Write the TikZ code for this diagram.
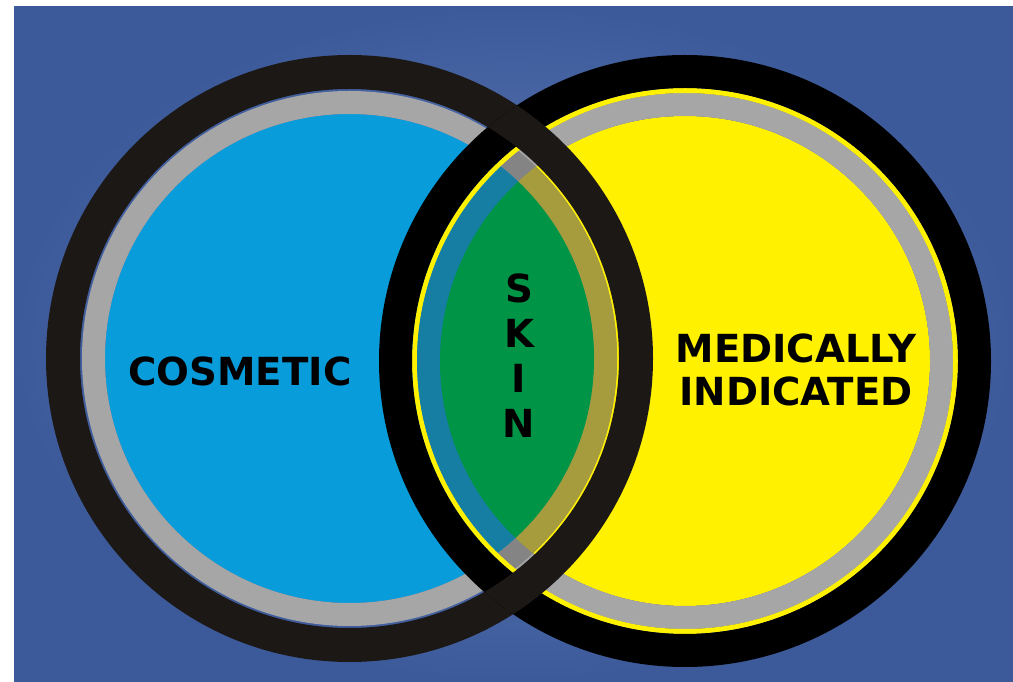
\documentclass[tikz,border=0pt]{standalone}
\usepackage{fontspec}
\setmainfont{DejaVu Sans}

\definecolor{bglight}{RGB}{100,124,184}
\definecolor{bgdark}{RGB}{60,90,154}
\definecolor{inkblack}{RGB}{28,24,22}
\definecolor{rimgray}{RGB}{166,166,166}
\definecolor{cosmblue}{RGB}{8,156,218}
\definecolor{medyellow}{RGB}{255,241,0}
\definecolor{lensgreen}{RGB}{0,148,70}
\definecolor{rimteal}{RGB}{22,126,162}
\definecolor{rimolive}{RGB}{166,156,62}
\definecolor{rimdark}{RGB}{132,132,132}

\begin{document}
\begin{tikzpicture}[
    word/.style={font=\bfseries\fontsize{11}{12.4}\selectfont, text=black, inner sep=0pt, align=center},
    rim/.style={line width=0.23cm}]
  \useasboundingbox (0,0) rectangle (10.13,6.81);
  \fill[white] (0,0) rectangle (10.13,6.81);

  % blue backdrop
  \shade[inner color=bglight, outer color=bgdark] (0.14,0) rectangle (10.13,6.74);

  \coordinate (lc) at (3.495,3.225);
  \coordinate (rc) at (6.85,3.20);

  % left circle
  \fill[cosmblue] (lc) circle (2.445);
  \draw[rimgray, rim] (lc) circle (2.56);
  \draw[inkblack, line width=0.34cm] (lc) circle (2.865);

  % right circle
  \fill[medyellow] (rc) circle (2.45);
  \draw[rimgray, rim] (rc) circle (2.565);
  \draw[medyellow, line width=0.05cm] (rc) circle (2.705);
  \draw[black, line width=0.33cm] (rc) circle (2.895);

  % where the two overlap
  \begin{scope}
    \clip (rc) circle (2.68);
    \draw[rimdark, rim] (lc) circle (2.56);
    \fill[rimteal] (lc) circle (2.445);
    \clip (rc) circle (2.45);
    \draw[rimolive, rim] (lc) circle (2.56);
    \fill[lensgreen] (lc) circle (2.445);
  \end{scope}
  \begin{scope}
    \clip (rc) circle (3.06);
    \draw[inkblack, line width=0.34cm] (lc) circle (2.865);
  \end{scope}

  % labels
  \node[word] (cosmetic) at (2.40,3.10) {COSMETIC};
  \node[word] (medical) at (7.96,3.11) {MEDICALLY\\INDICATED};
  \node[word, font=\bfseries\fontsize{11}{12.8}\selectfont] (skin) at (5.19,3.25) {S\\K\\I\\N};
\end{tikzpicture}
\end{document}
